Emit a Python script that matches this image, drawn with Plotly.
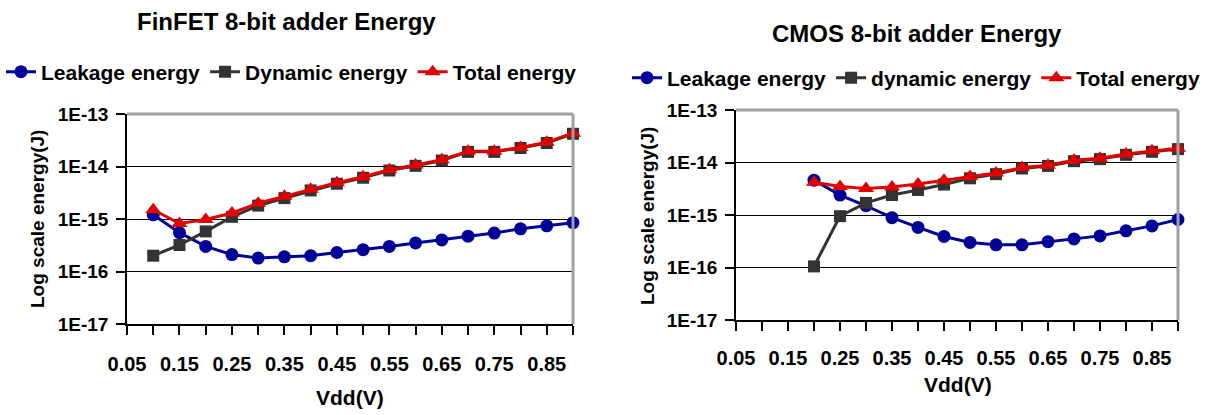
import plotly.graph_objects as go

# ---------------- data ----------------
tick_vdd = [0.05, 0.10, 0.15, 0.20, 0.25, 0.30, 0.35, 0.40, 0.45, 0.50,
            0.55, 0.60, 0.65, 0.70, 0.75, 0.80, 0.85, 0.90]
tick_labels = ["0.05", "", "0.15", "", "0.25", "", "0.35", "", "0.45", "",
               "0.55", "", "0.65", "", "0.75", "", "0.85", ""]
y_tickvals = [1e-17, 1e-16, 1e-15, 1e-14, 1e-13]
y_ticktext = ["1E-17", "1E-16", "1E-15", "1E-14", "1E-13"]

finfet_vdd = [0.10, 0.15, 0.20, 0.25, 0.30, 0.35, 0.40, 0.45, 0.50,
              0.55, 0.60, 0.65, 0.70, 0.75, 0.80, 0.85, 0.90]
finfet_leakage = [1.2e-15, 5.5e-16, 3.0e-16, 2.1e-16, 1.8e-16, 1.9e-16, 2.0e-16, 2.3e-16, 2.6e-16,
                  3.0e-16, 3.5e-16, 4.0e-16, 4.7e-16, 5.4e-16, 6.5e-16, 7.4e-16, 8.5e-16]
finfet_dynamic = [2.0e-16, 3.2e-16, 5.8e-16, 1.1e-15, 1.8e-15, 2.5e-15, 3.5e-15, 4.7e-15, 6.1e-15,
                  8.4e-15, 1.03e-14, 1.3e-14, 1.9e-14, 1.9e-14, 2.25e-14, 2.8e-14, 4.2e-14]
finfet_total = [1.5e-15, 8.2e-16, 9.8e-16, 1.3e-15, 2.0e-15, 2.7e-15, 3.7e-15, 4.9e-15, 6.4e-15,
                8.7e-15, 1.07e-14, 1.35e-14, 1.95e-14, 1.95e-14, 2.3e-14, 2.9e-14, 4.3e-14]

cmos_vdd = [0.20, 0.25, 0.30, 0.35, 0.40, 0.45, 0.50, 0.55,
            0.60, 0.65, 0.70, 0.75, 0.80, 0.85, 0.90]
cmos_leakage = [4.6e-15, 2.4e-15, 1.5e-15, 8.9e-16, 5.8e-16, 3.9e-16, 3.0e-16, 2.7e-16,
                2.7e-16, 3.1e-16, 3.5e-16, 4.0e-16, 5.0e-16, 6.2e-16, 8.2e-16]
cmos_dynamic = [1.05e-16, 9.5e-16, 1.7e-15, 2.4e-15, 3.0e-15, 3.8e-15, 5.0e-15, 6.0e-15,
                7.7e-15, 8.6e-15, 1.06e-14, 1.16e-14, 1.4e-14, 1.6e-14, 1.8e-14]
cmos_total = [4.2e-15, 3.5e-15, 3.2e-15, 3.4e-15, 3.9e-15, 4.6e-15, 5.4e-15, 6.3e-15,
              8.0e-15, 8.9e-15, 1.1e-14, 1.2e-14, 1.45e-14, 1.67e-14, 1.87e-14]

# ---------------- style ----------------
W, H = 1216, 415
FONT = "Liberation Sans, Arial, sans-serif"
BLUE, GRAY, RED = "#000099", "#333333", "#e00000"
BORDER = "#a0a0a0"


def px(x):
    return x / W


def py(y):
    return 1 - y / H


fig = go.Figure()


def add_series(x, y, name, color, symbol, size, xa, ya, leg):
    fig.add_trace(go.Scatter(
        x=x, y=y, name=name, mode="lines+markers",
        line=dict(color=color, width=3),
        marker=dict(color=color, symbol=symbol, size=size),
        xaxis=xa, yaxis=ya, legend=leg, cliponaxis=False))


add_series(finfet_vdd, finfet_leakage, "Leakage energy", BLUE, "circle", 13, "x", "y", "legend")
add_series(finfet_vdd, finfet_dynamic, "Dynamic energy", GRAY, "square", 12, "x", "y", "legend")
add_series(finfet_vdd, finfet_total, "Total energy", RED, "triangle-up", 14, "x", "y", "legend")

add_series(cmos_vdd, cmos_leakage, "Leakage energy", BLUE, "circle", 13, "x2", "y2", "legend2")
add_series(cmos_vdd, cmos_dynamic, "dynamic energy", GRAY, "square", 12, "x2", "y2", "legend2")
add_series(cmos_vdd, cmos_total, "Total energy", RED, "triangle-up", 14, "x2", "y2", "legend2")

xtickfont = dict(family=FONT, size=20, color="black", weight="bold")
ytickfont = dict(family=FONT, size=19, color="black", weight="bold")


def xaxis(dom, standoff):
    return dict(domain=dom, range=[0.05, 0.90], tickmode="array",
                tickvals=tick_vdd, ticktext=tick_labels, ticks="outside", ticklen=9,
                tickwidth=1.5, tickcolor="black", showline=True, linecolor="black",
                linewidth=1.5, showgrid=False, zeroline=False, tickfont=xtickfont,
                ticklabelstandoff=standoff, tickangle=0)


def yaxis(dom, anchor):
    return dict(domain=dom, type="log", range=[-17, -13], tickmode="array",
                tickvals=y_tickvals, ticktext=y_ticktext, ticks="outside", ticklen=9,
                tickwidth=1.5, tickcolor="black", showline=True, linecolor="black",
                linewidth=1.5, showgrid=True, gridcolor="black", gridwidth=1.2,
                zeroline=False, tickfont=ytickfont, anchor=anchor, ticklabelstandoff=4)


legfont = dict(family=FONT, size=21, color="black", weight="bold")

fig.update_layout(
    width=W, height=H, margin=dict(l=0, r=0, t=0, b=0, autoexpand=False),
    paper_bgcolor="white", plot_bgcolor="white",
    xaxis=dict(**xaxis([px(127), px(573)], 12), anchor="y"),
    yaxis=yaxis([py(324), py(114)], "x"),
    xaxis2=dict(**xaxis([px(736), px(1178)], 10), anchor="y2"),
    yaxis2=yaxis([py(320), py(110)], "x2"),
    legend=dict(orientation="h", x=px(1), y=py(72), xanchor="left", yanchor="middle",
                font=legfont, itemwidth=30, bgcolor="rgba(0,0,0,0)"),
    legend2=dict(orientation="h", x=px(627), y=py(78), xanchor="left", yanchor="middle",
                 font=legfont, itemwidth=30, bgcolor="rgba(0,0,0,0)"),
    showlegend=True,
)

# plot-area border (top and right, gray)
for xr, yr in (("x domain", "y domain"), ("x2 domain", "y2 domain")):
    fig.add_shape(type="line", xref=xr, yref=yr, x0=0, x1=1, y0=1, y1=1,
                  line=dict(color=BORDER, width=3))
    fig.add_shape(type="line", xref=xr, yref=yr, x0=1, x1=1, y0=0, y1=1,
                  line=dict(color=BORDER, width=3))

ann = [
    ("<b>FinFET 8-bit adder Energy</b>", 286, 22, 0, 24),
    ("<b>CMOS 8-bit adder Energy</b>", 917, 34, 0, 24),
    ("<b>Vdd(V)</b>", 350, 397, 0, 21),
    ("<b>Vdd(V)</b>", 958, 384, 0, 21),
    ("<b>Log scale energy(J)</b>", 37, 219, -90, 19),
    ("<b>Log scale energy(J)</b>", 647, 216, -90, 19),
]
for text, x, y, ang, size in ann:
    fig.add_annotation(text=text, x=px(x), y=py(y), xref="paper", yref="paper",
                       xanchor="center", yanchor="middle", showarrow=False, textangle=ang,
                       font=dict(family=FONT, size=size, color="black"))

fig.write_html("out.html", config={"displayModeBar": False},
               post_script="document.body.style.margin='0px';")
